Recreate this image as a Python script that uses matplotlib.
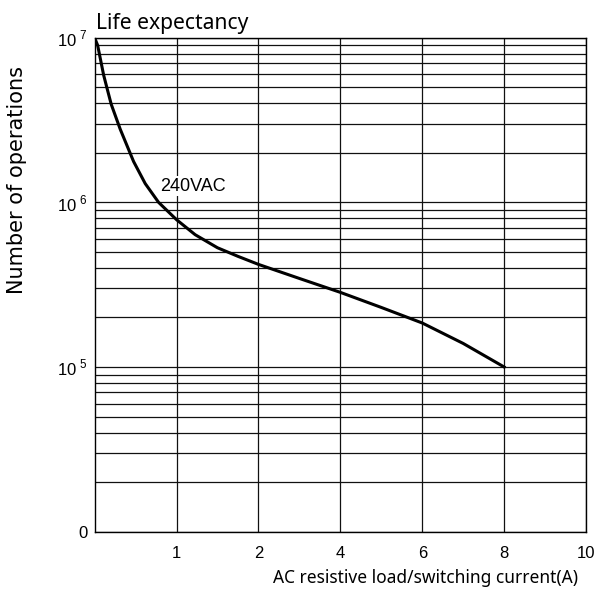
import matplotlib
matplotlib.use("Agg")
import matplotlib.pyplot as plt
from matplotlib.ticker import LogLocator, NullFormatter

# Eixo x: posições igualmente espaçadas, rotuladas com a corrente (A)
current_labels = ['1', '2', '4', '6', '8', '10']
current_pos = [1, 2, 3, 4, 5, 6]

# Curva 240VAC (posição no eixo x, número de operações)
curve_pos = [0.0, 0.037, 0.11, 0.15, 0.203, 0.313, 0.476, 0.618, 0.781,
             1.0, 1.228, 1.5, 1.75, 2.0, 2.5, 3.0, 3.5, 4.0, 4.5, 5.0]
curve_ops = [1.0e7, 9.0e6, 5.94e6, 4.97e6, 3.94e6, 2.78e6, 1.77e6, 1.30e6, 1.0e6,
             7.85e5, 6.36e5, 5.3e5, 4.7e5, 4.2e5, 3.45e5, 2.84e5, 2.3e5, 1.85e5, 1.39e5, 1.0e5]

y_ticks = [1e4, 1e5, 1e6, 1e7]
y_labels = ['0', r'$\mathrm{10}^{\ 5}$', r'$\mathrm{10}^{\ 6}$', r'$\mathrm{10}^{\ 7}$']

plt.rcParams['mathtext.fontset'] = 'custom'
plt.rcParams['mathtext.rm'] = 'Liberation Sans'

fig = plt.figure(figsize=(5.95, 5.94), dpi=100)
ax = fig.add_axes([0.159, 0.105, 0.826, 0.8315])

ax.set_yscale('log')
ax.set_xlim(0, 6)
ax.set_ylim(1e4, 1e7)

# Grade
ax.yaxis.set_minor_locator(LogLocator(base=10, subs=range(2, 10)))
ax.yaxis.set_minor_formatter(NullFormatter())
ax.grid(True, which='both', axis='y', color='#111111', lw=0.9)
ax.set_xticks(current_pos)
ax.grid(True, which='major', axis='x', color='#111111', lw=0.9)

ax.set_xticklabels(current_labels, fontfamily='Liberation Sans', fontsize=12)
ax.set_yticks(y_ticks)
ax.set_yticklabels(y_labels, fontfamily='Liberation Sans', fontsize=12)
ax.tick_params(which='both', length=0)
ax.tick_params(axis='x', pad=10)
ax.tick_params(axis='y', pad=5)

for s in ax.spines.values():
    s.set_color('black')
    s.set_linewidth(1.0)

ax.plot(curve_pos, curve_ops, color='black', lw=2.2, zorder=3,
        solid_joinstyle='round')

ax.text(0.8, 1.25e6, '240VAC', fontfamily='Liberation Sans', fontsize=13,
        va='center', ha='left', zorder=4,
        bbox=dict(facecolor='white', edgecolor='none', pad=1))

fig.text(0.162, 0.951, 'Life expectancy', fontfamily='Noto Sans', fontsize=15.2,
         ha='left', va='baseline')
fig.text(0.972, 0.027, 'AC resistive load/switching current(A)', fontfamily='Noto Sans',
         fontsize=12.5, ha='right', va='center')
fig.text(0.029, 0.697, 'Number of operations', fontfamily='DejaVu Sans', fontsize=15,
         rotation=90, ha='center', va='center')

fig.savefig('out.png', dpi=100)
